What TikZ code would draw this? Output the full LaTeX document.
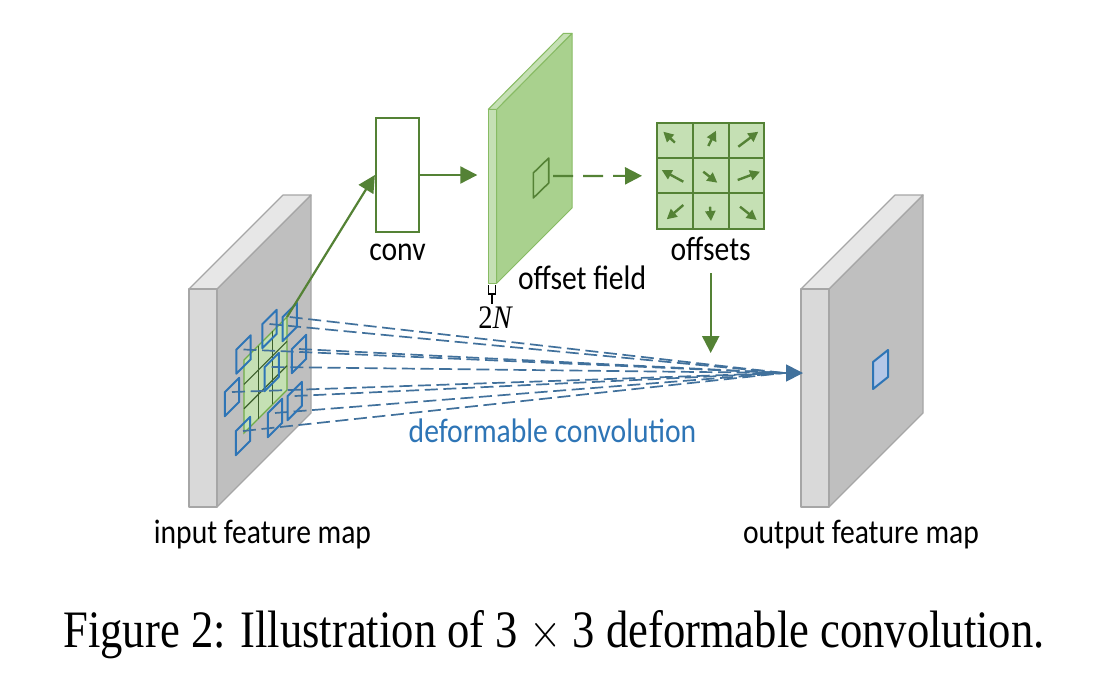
\documentclass[tikz,border=0pt]{standalone}
\usepackage{fontspec}
\usepackage{graphicx}
\setmainfont{Carlito}
\newfontfamily\capfont{Liberation Serif}
\usetikzlibrary{arrows.meta,positioning}

\definecolor{fgreen}{HTML}{548235}
\definecolor{lgreen}{HTML}{C5E0B4}
\definecolor{mgreen}{HTML}{A9D18E}
\definecolor{ggreen}{HTML}{70AD47}
\definecolor{dgreen}{HTML}{3B5E2B}
\definecolor{sqblue}{HTML}{2E75B6}
\definecolor{lnblue}{HTML}{41719C}
\definecolor{lblue}{HTML}{B4C7E7}
\definecolor{gfront}{HTML}{D9D9D9}
\definecolor{gtop}{HTML}{E7E7E7}
\definecolor{gside}{HTML}{BFBFBF}
\definecolor{gedge}{HTML}{A6A6A6}

\newcommand{\tall}[2][1.15]{\scalebox{1}[#1]{#2}}

\begin{document}
\begin{tikzpicture}[
  x=0.5pt, y=-0.5pt,
  lbl/.style={font=\fontsize{14.8}{17}\selectfont, inner sep=0pt, anchor=base},
  slab/.style={draw=gedge, line width=0.6pt, line join=round},
  fslab/.style={draw=ggreen!60!mgreen, line width=0.5pt, line join=round},
  convbox/.style={draw=fgreen, fill=white, line width=1.1pt, minimum width=21.5pt, minimum height=57pt, inner sep=0pt},
  cell/.style={draw=fgreen, fill=lgreen, line width=1pt, minimum width=17.9pt, minimum height=17.6pt, inner sep=0pt},
  garrow/.style={draw=fgreen, line width=1.1pt, -{Triangle[length=8.5pt,width=8.5pt]}},
  oarrow/.style={draw=fgreen, line width=1.2pt, -{Triangle[length=5pt,width=5pt]}},
  sq/.style={draw=sqblue, line width=1pt, line join=round},
  dline/.style={draw=lnblue, line width=0.85pt, dash pattern=on 6.5pt off 2.8pt},
]
\fill[white] (0,0) rectangle (1106,680);
\useasboundingbox (0,0) rectangle (1106,680);

% input and output feature maps
\foreach \x in {189,801} {
  \filldraw[slab, fill=gside] (\x+28,289) -- (\x+122,195) -- (\x+122,413) -- (\x+28,507) -- cycle;
  \filldraw[slab, fill=gtop] (\x,289) -- (\x+28,289) -- (\x+122,195) -- (\x+94,195) -- cycle;
  \filldraw[slab, fill=gfront] (\x,289) rectangle (\x+28,507);
}
\filldraw[sq, fill=lblue] (873,362) -- (888,350) -- (888,377) -- (873,389) -- cycle;

% regular 3x3 grid on the input
\filldraw[draw=ggreen, fill=lgreen, line width=0.6pt] (244,433) -- (287,390) -- (287,317) -- (244,360) -- cycle;
\foreach \k in {1,2} {
  \draw[dgreen, line width=0.6pt] (244+14.33*\k,433-14.33*\k) -- ++(0,-73);
  \draw[dgreen, line width=0.6pt] (244,433-24.33*\k) -- ++(43,-43);
}
\coordinate (gridtr) at (287,317);

% sampling locations and dashed lines
\coordinate (meet) at (784,373);
\coordinate (outmap) at (803,373);
\foreach \i/\cx/\cy in {1/243.5/354.5, 2/269.5/329, 3/289.7/322, 4/232/397, 5/271.7/372,
                        6/299/354, 7/243/436, 8/275/418, 9/294.7/401} {
  \coordinate (s\i) at (\cx,\cy-5);
  \draw[dline] (s\i) -- (meet);
  \draw[sq] (\cx-7.2,\cy+19.2) -- ++(14.4,-14.4) -- ++(0,-24) -- ++(-14.4,14.4) -- cycle;
}
\draw[draw=lnblue, line width=0.85pt, -{Triangle[length=8.5pt,width=8.5pt]}] (meet) -- (outmap);

% conv
\node[convbox] (conv) at (397.5,175) {};
\node[lbl] (convlbl) at (397.5,260.5) {\tall{conv}};
\draw[garrow] (gridtr) -- (conv.west);

% offset field
\filldraw[fslab, fill=mgreen] (496.7,109.3) -- (572,33.3) -- (572,208) -- (496.7,283.3) -- cycle;
\filldraw[fslab, fill=lgreen] (488.3,109.3) -- (496.7,109.3) -- (572,33.3) -- (563.6,33.3) -- cycle;
\filldraw[fslab, fill=lgreen] (488.3,109.3) rectangle (496.7,283.3);
\draw[fgreen, line width=0.8pt, line join=round] (533.3,173) -- (548.7,158) -- (548.7,183) -- (533.3,198) -- cycle;
\coordinate (field) at (488.3,175);
\coordinate (fsq) at (553,176);
\node[lbl, anchor=base west] (fieldlbl) at (517.7,289) {\tall{offset field}};
\draw[garrow] (conv.east) -- (field) [shorten >=5.5pt];
\draw[line width=0.7pt] (488.3,285) -- (488.3,294) -- (495.7,294) -- (495.7,285);
\coordinate (brk) at (492,294);
\node[anchor=base, inner sep=0pt, font=\capfont\fontsize{14.3}{16}\selectfont] (twoN) at (495,328) {\tall{2\itshape N}};
\draw[line width=0.7pt] (brk) -- ++(0,9.5);

% offsets
\foreach \r in {1,2,3}
  \foreach \c in {1,2,3}
    \node[cell] (o\r\c) at ({639.1+35.8*\c},{105.4+35.2*\r}) {};
\foreach \r/\c/\a/\b/\p/\q in {1/1/0/2/-11.6/-8.9, 1/2/-2.4/5.4/5.3/-9.9, 1/3/-8.2/6.1/11.8/-8.9,
                               2/1/8.4/5.9/-13.2/-5.8, 2/2/-7.4/-4.1/6.6/6.9, 2/3/-8.8/4.2/13.5/-4.1,
                               3/1/8.4/-6/-8.2/8.3, 3/2/-0.7/-4.3/0.3/10, 3/3/-6.5/-4.3/10.2/9}
  \draw[oarrow] ([shift={(\a,\b)}]o\r\c.center) -- ([shift={(\p,\q)}]o\r\c.center);
\node[lbl] (offlbl) at (710.7,260.5) {\tall{offsets}};
\draw[garrow, dash pattern=on 10pt off 5pt, shorten >=7pt] (fsq) -- (o21.west);
\coordinate (outin) at (710.7,353);
\draw[garrow, shorten <=6pt] (offlbl.south) -- (outin);

% labels
\node[lbl] (inlbl) at (262.5,543) {\tall{input feature map}};
\node[lbl] (outlbl) at (861,543) {\tall{output feature map}};
\node[lbl, text=sqblue] (dconv) at (552.5,442) {\tall{deformable convolution}};
\node[anchor=base, inner sep=0pt, font=\capfont\fontsize{22.3}{26}\selectfont] (caption) at (554,647)
  {\tall[1.18]{Figure 2: Illustration of 3 $\times$ 3 deformable convolution.}};
\end{tikzpicture}
\end{document}
